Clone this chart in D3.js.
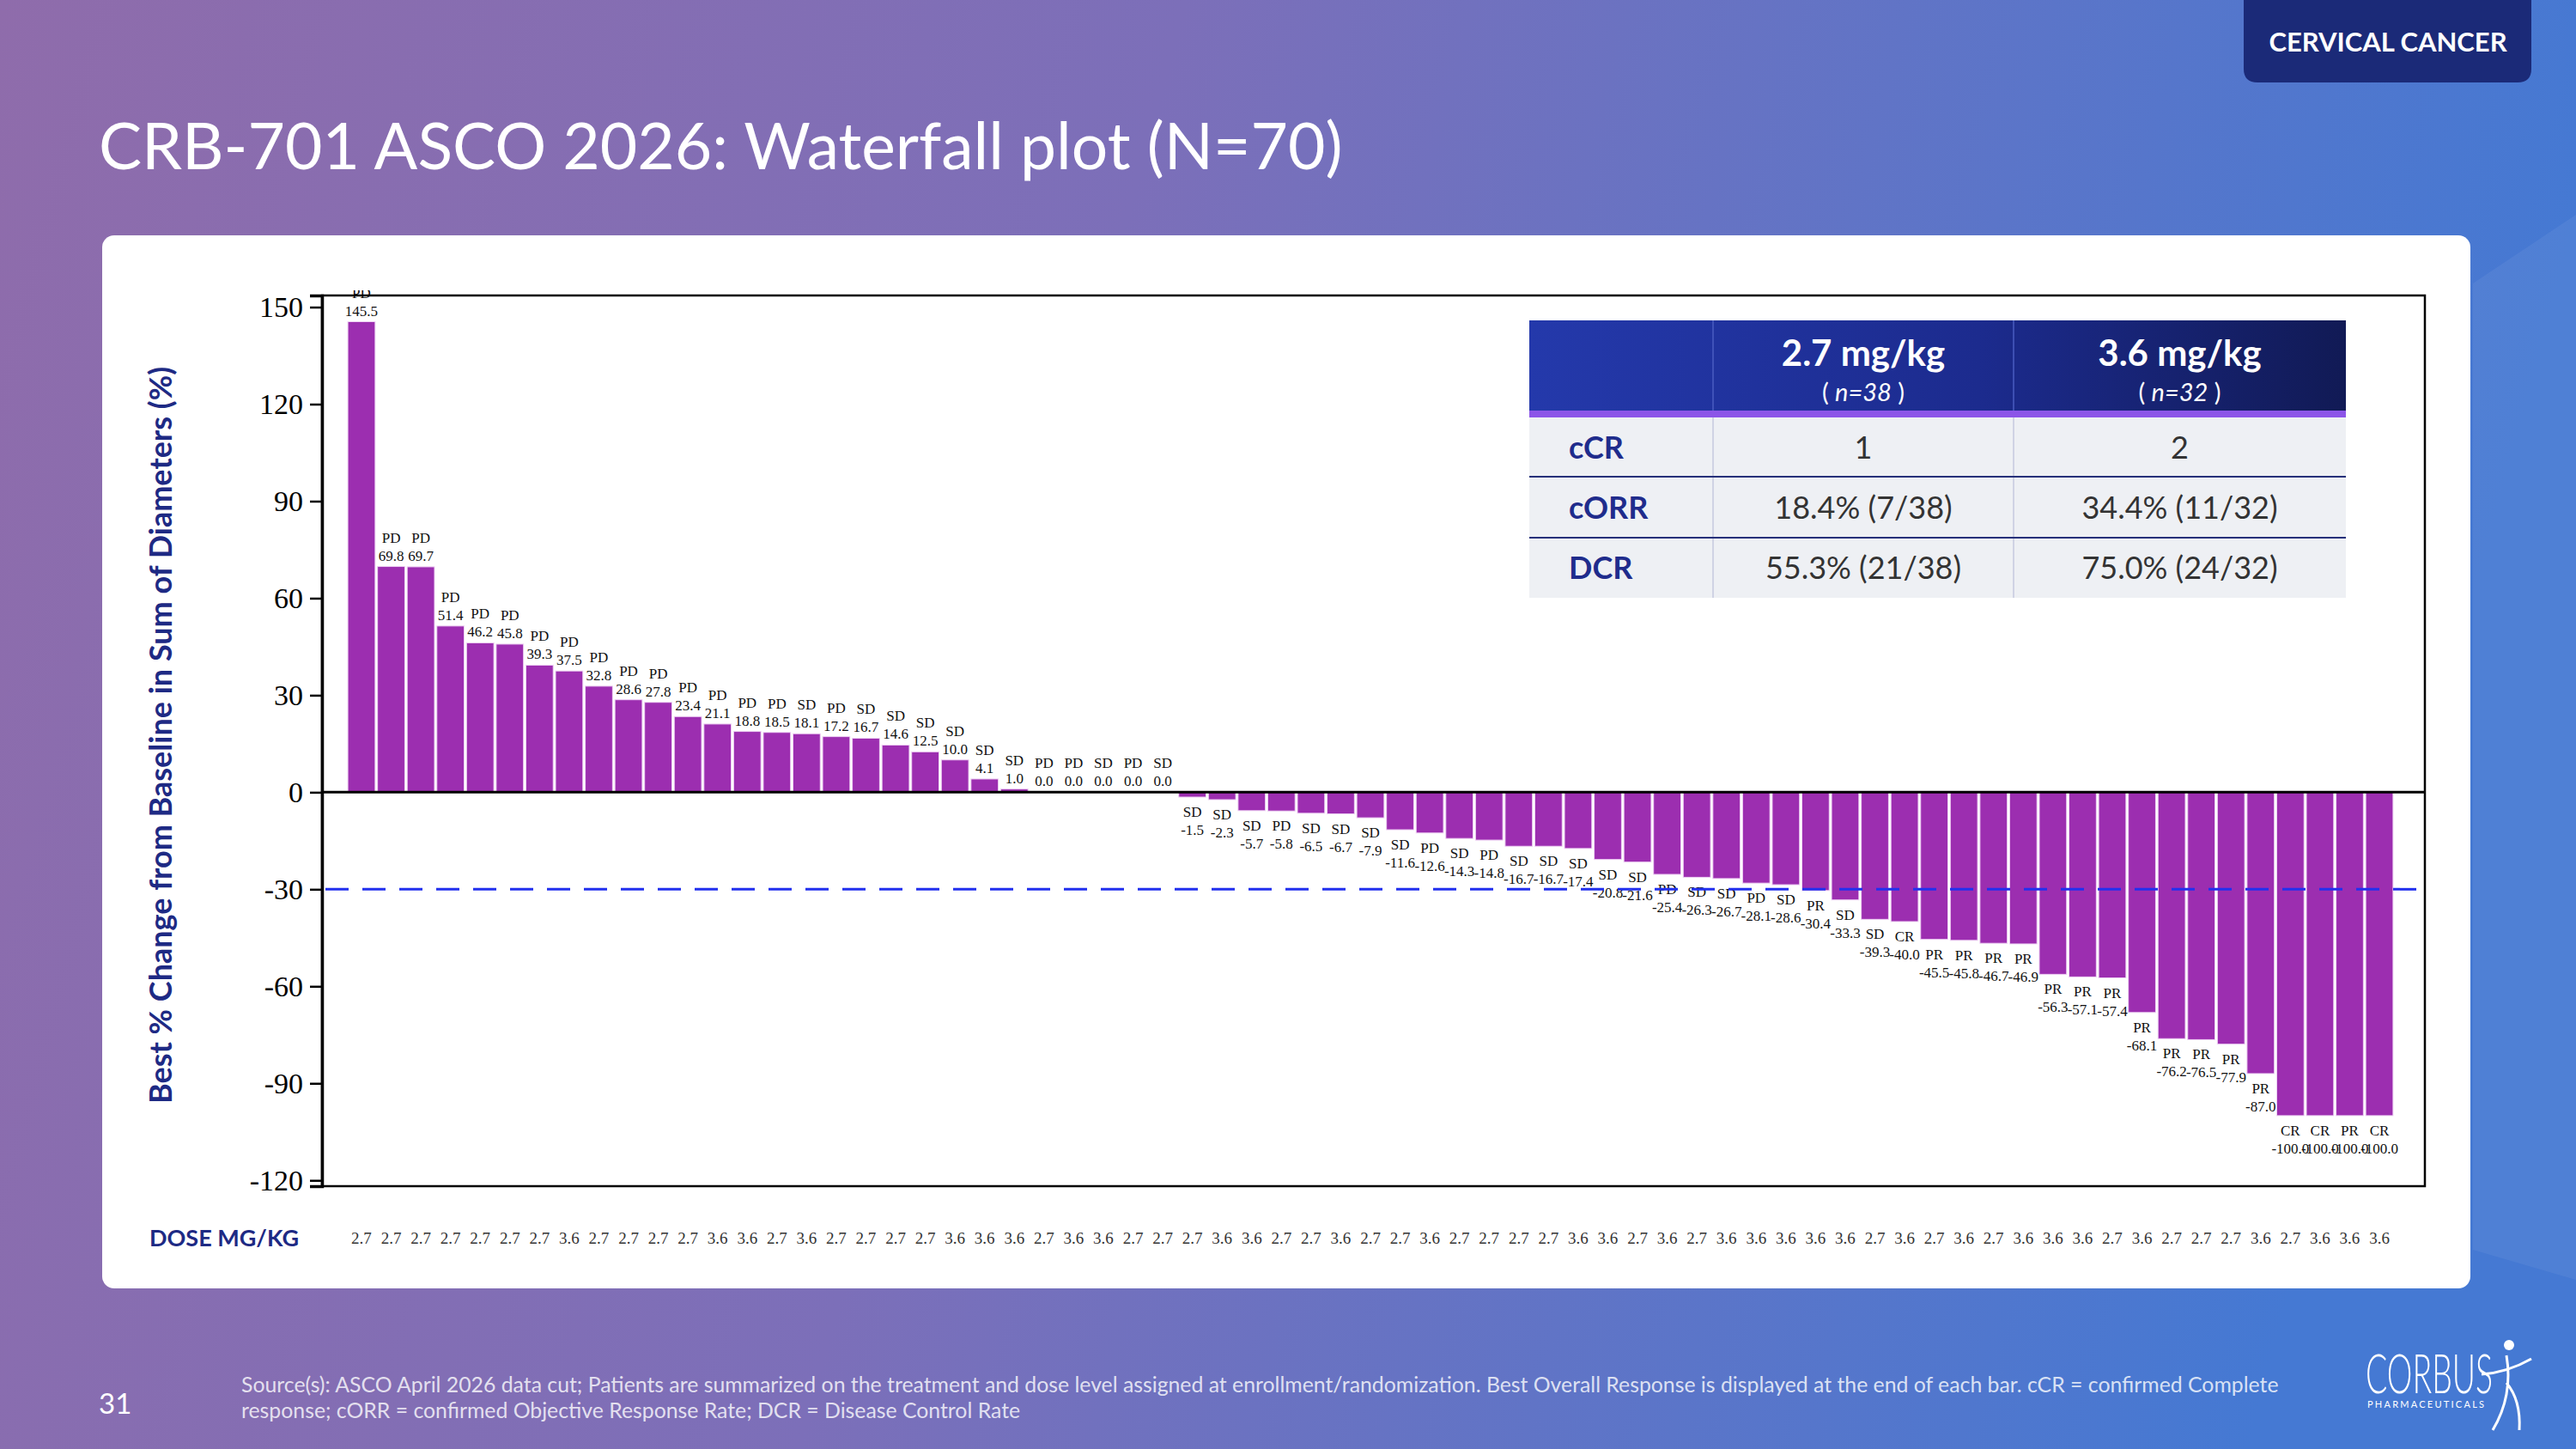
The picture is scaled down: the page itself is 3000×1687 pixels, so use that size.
<!DOCTYPE html>
<html>
<head>
<meta charset="utf-8">
<script src="https://cdn.jsdelivr.net/npm/d3@7"></script>
<style>
body{margin:0;background:#fff}
svg{display:block}
</style>
</head>
<body>
<script>
// best % change from baseline, one entry per patient (sorted as in the plot)
var values = [145.5, 69.8, 69.7, 51.4, 46.2, 45.8, 39.3, 37.5, 32.8, 28.6,
  27.8, 23.4, 21.1, 18.8, 18.5, 18.1, 17.2, 16.7, 14.6, 12.5,
  10.0, 4.1, 1.0, 0.0, 0.0, 0.0, 0.0, 0.0, -1.5, -2.3,
  -5.7, -5.8, -6.5, -6.7, -7.9, -11.6, -12.6, -14.3, -14.8, -16.7,
  -16.7, -17.4, -20.8, -21.6, -25.4, -26.3, -26.7, -28.1, -28.6, -30.4,
  -33.3, -39.3, -40.0, -45.5, -45.8, -46.7, -46.9, -56.3, -57.1, -57.4,
  -68.1, -76.2, -76.5, -77.9, -87.0, -100.0, -100.0, -100.0, -100.0];

var responses = ["PD","PD","PD","PD","PD","PD","PD","PD","PD","PD",
  "PD","PD","PD","PD","PD","SD","PD","SD","SD","SD",
  "SD","SD","SD","PD","PD","SD","PD","SD","SD","SD",
  "SD","PD","SD","SD","SD","SD","PD","SD","PD","SD",
  "SD","SD","SD","SD","PD","SD","SD","PD","SD","PR",
  "SD","SD","CR","PR","PR","PR","PR","PR","PR","PR",
  "PR","PR","PR","PR","PR","CR","CR","PR","CR"];

var doses = ["2.7","2.7","2.7","2.7","2.7","2.7","2.7","3.6","2.7","2.7",
  "2.7","2.7","3.6","3.6","2.7","3.6","2.7","2.7","2.7","2.7",
  "3.6","3.6","3.6","2.7","3.6","3.6","2.7","2.7","2.7","3.6",
  "3.6","2.7","2.7","3.6","2.7","2.7","3.6","2.7","2.7","2.7",
  "2.7","3.6","3.6","2.7","3.6","2.7","3.6","3.6","3.6","3.6",
  "3.6","2.7","3.6","2.7","3.6","2.7","3.6","3.6","3.6","2.7",
  "3.6","2.7","2.7","2.7","3.6","2.7","3.6","3.6","3.6"];

var yTicks = [150, 120, 90, 60, 30, 0, -30, -60, -90, -120];
var threshold = -30;

// summary table
var tableHeads = ["2.7 mg/kg", "3.6 mg/kg"];
var tableN = ["n=38", "n=32"];
var tableRows = ["cCR", "cORR", "DCR"];
var tableVals = [["1", "2"], ["18.4% (7/38)", "34.4% (11/32)"], ["55.3% (21/38)", "75.0% (24/32)"]];

var W = 3000, H = 1687;
var pL = 375, pR = 2824, pT = 344, pB = 1381;   // plot frame

var svg = d3.select("body").append("svg")
  .attr("width", W)
  .attr("height", H);

var defs = svg.append("defs");

var bg = defs.append("linearGradient").attr("id", "bgGrad")
  .attr("x1", "0").attr("y1", "0").attr("x2", "1").attr("y2", "0.15");
bg.append("stop").attr("offset", "0%").attr("stop-color", "#8f6cab");
bg.append("stop").attr("offset", "45%").attr("stop-color", "#7c6fb9");
bg.append("stop").attr("offset", "100%").attr("stop-color", "#4579d3");

var hg = defs.append("linearGradient").attr("id", "headGrad");
hg.append("stop").attr("offset", "0%").attr("stop-color", "#2439ab");
hg.append("stop").attr("offset", "55%").attr("stop-color", "#1c2b8e");
hg.append("stop").attr("offset", "100%").attr("stop-color", "#111a55");

defs.append("clipPath").attr("id", "plotClip")
  .append("rect").attr("x", pL - 40).attr("y", 338)
  .attr("width", pR - pL + 80).attr("height", 1200);

// background
svg.append("rect").attr("width", W).attr("height", H).attr("fill", "url(#bgGrad)");
svg.append("path")
  .attr("d", "M2880,330 L3000,250 L3000,1490 L2880,1455 Z")
  .attr("fill", "#ffffff").attr("fill-opacity", 0.06);

// badge
svg.append("path")
  .attr("d", "M2613,0 H2948 V80 Q2948,96 2932,96 H2629 Q2613,96 2613,80 Z")
  .attr("fill", "#1b2a78");
svg.append("text")
  .text("CERVICAL CANCER")
  .attr("x", 2781).attr("y", 60)
  .attr("text-anchor", "middle")
  .attr("font-family", "Lato").attr("font-weight", "bold")
  .attr("font-size", 31).attr("fill", "#ffffff");

// title
svg.append("text")
  .text("CRB-701 ASCO 2026: Waterfall plot (N=70)")
  .attr("x", 115).attr("y", 197)
  .attr("font-family", "Lato").attr("font-size", 75)
  .attr("fill", "#ffffff");

// white card
svg.append("rect")
  .attr("x", 119).attr("y", 274)
  .attr("width", 2758).attr("height", 1226)
  .attr("rx", 14).attr("fill", "#ffffff");

// scales
var x = d3.scaleBand()
  .domain(d3.range(values.length))
  .range([403.7, 2788.3])
  .paddingInner(0.08)
  .paddingOuter(0.04);

var y = d3.scaleLinear()
  .domain([-121.8, 153.6])
  .range([pB, pT]);

// bars
svg.append("g").selectAll("rect")
  .data(values)
  .join("rect")
  .attr("x", function(d, i) { return x(i); })
  .attr("y", function(d) { return Math.min(y(d), y(0)); })
  .attr("width", x.bandwidth())
  .attr("height", function(d) { return Math.abs(y(d) - y(0)); })
  .attr("fill", "#9c2eb0")
  .attr("stroke", "#efd3f4")
  .attr("stroke-width", 1);

// bar labels (response + value)
var lab = svg.append("g")
  .attr("clip-path", "url(#plotClip)")
  .attr("font-family", "Liberation Serif, Times New Roman, serif")
  .attr("font-size", 17)
  .attr("fill", "#111")
  .attr("text-anchor", "middle");

values.forEach(function(v, i) {
  var cx = x(i) + x.bandwidth() / 2;
  var y1, y2;
  if (v >= 0) {
    y1 = y(v) - 28;
    y2 = y(v) - 7;
  } else {
    y1 = y(v) + 23;
    y2 = y(v) + 44;
  }
  lab.append("text").text(responses[i]).attr("x", cx).attr("y", y1);
  lab.append("text").text(v.toFixed(1)).attr("x", cx).attr("y", y2);
});

// zero line
svg.append("line")
  .attr("x1", pL).attr("x2", pR)
  .attr("y1", y(0)).attr("y2", y(0))
  .attr("stroke", "#000").attr("stroke-width", 3);

// -30% threshold
svg.append("line")
  .attr("x1", pL + 4).attr("x2", pR)
  .attr("y1", y(threshold)).attr("y2", y(threshold))
  .attr("stroke", "#2230ee").attr("stroke-width", 3)
  .attr("stroke-dasharray", "27,16");

// frame
svg.append("rect")
  .attr("x", pL).attr("y", pT)
  .attr("width", pR - pL).attr("height", pB - pT)
  .attr("fill", "none").attr("stroke", "#000").attr("stroke-width", 2.5);

// y axis
var yAxis = svg.append("g")
  .attr("transform", "translate(" + pL + ",0)")
  .call(d3.axisLeft(y).tickValues(yTicks).tickSize(14).tickPadding(8)
    .tickFormat(function(d) { return String(d); }));
yAxis.select(".domain").attr("stroke", "#000").attr("stroke-width", 3.5);
yAxis.selectAll(".tick line").attr("stroke", "#000").attr("stroke-width", 2.5);
yAxis.selectAll(".tick text")
  .attr("font-family", "Liberation Serif, Times New Roman, serif")
  .attr("font-size", 34).attr("fill", "#000");

svg.append("text")
  .text("Best % Change from Baseline in Sum of Diameters (%)")
  .attr("transform", "translate(200,856) rotate(-90)")
  .attr("text-anchor", "middle")
  .attr("font-family", "Lato").attr("font-weight", "bold")
  .attr("font-size", 36).attr("fill", "#1e2a84");

// dose row
svg.append("text")
  .text("DOSE MG/KG")
  .attr("x", 174).attr("y", 1451)
  .attr("font-family", "Lato").attr("font-weight", "bold")
  .attr("font-size", 27).attr("fill", "#1e2a84");

svg.append("g").selectAll("text")
  .data(doses)
  .join("text")
  .text(function(d) { return d; })
  .attr("x", function(d, i) { return x(i) + x.bandwidth() / 2; })
  .attr("y", 1448)
  .attr("text-anchor", "middle")
  .attr("font-family", "Liberation Serif, Times New Roman, serif")
  .attr("font-size", 19).attr("fill", "#333");

// summary table
var tx = [1781, 1995, 2345, 2732];
var headTop = 373, headBot = 478, bandH = 8;
var rowY = [486, 555, 626, 696];
var tbl = svg.append("g");

tbl.append("rect").attr("x", tx[0]).attr("y", headTop)
  .attr("width", tx[3] - tx[0]).attr("height", headBot - headTop)
  .attr("fill", "url(#headGrad)");
tbl.append("rect").attr("x", tx[0]).attr("y", headBot)
  .attr("width", tx[3] - tx[0]).attr("height", bandH)
  .attr("fill", "#8c55e8");
tbl.append("rect").attr("x", tx[0]).attr("y", rowY[0])
  .attr("width", tx[3] - tx[0]).attr("height", rowY[3] - rowY[0])
  .attr("fill", "#eef0f4");

[1, 2].forEach(function(c) {
  tbl.append("line").attr("x1", tx[c]).attr("x2", tx[c])
    .attr("y1", headTop).attr("y2", headBot)
    .attr("stroke", "#4a5cc0").attr("stroke-width", 1.5);
  tbl.append("line").attr("x1", tx[c]).attr("x2", tx[c])
    .attr("y1", rowY[0]).attr("y2", rowY[3])
    .attr("stroke", "#c6cadf").attr("stroke-width", 1.5);
});
[1, 2].forEach(function(r) {
  tbl.append("line").attr("x1", tx[0]).attr("x2", tx[3])
    .attr("y1", rowY[r]).attr("y2", rowY[r])
    .attr("stroke", "#26307a").attr("stroke-width", 2);
});

tableHeads.forEach(function(h, c) {
  var cx = (tx[c + 1] + tx[c + 2]) / 2;
  tbl.append("text").text(h)
    .attr("x", cx).attr("y", 426)
    .attr("text-anchor", "middle")
    .attr("font-family", "Lato").attr("font-weight", "bold")
    .attr("font-size", 42).attr("fill", "#fff");
  var t = tbl.append("text")
    .attr("x", cx).attr("y", 467)
    .attr("text-anchor", "middle")
    .attr("font-family", "Lato").attr("font-size", 29).attr("fill", "#fff");
  t.append("tspan").text("( ");
  t.append("tspan").text(tableN[c]).attr("font-style", "italic");
  t.append("tspan").text(" )");
});

tableRows.forEach(function(r, k) {
  var base = (rowY[k] + rowY[k + 1]) / 2 + 13;
  tbl.append("text").text(r)
    .attr("x", 1827).attr("y", base)
    .attr("font-family", "Lato").attr("font-weight", "bold")
    .attr("font-size", 36).attr("fill", "#1f2c8c");
  tableVals[k].forEach(function(v, c) {
    tbl.append("text").text(v)
      .attr("x", (tx[c + 1] + tx[c + 2]) / 2).attr("y", base)
      .attr("text-anchor", "middle")
      .attr("font-family", "Lato").attr("font-size", 36)
      .attr("fill", "#333");
  });
});

// footer
svg.append("text").text("31")
  .attr("x", 115).attr("y", 1646)
  .attr("font-family", "Lato").attr("font-size", 33).attr("fill", "#fff");

var src = svg.append("text")
  .attr("font-family", "Lato").attr("font-size", 24.8)
  .attr("fill", "#ffffff").attr("fill-opacity", 0.8);
src.append("tspan").attr("x", 281).attr("y", 1621)
  .text("Source(s): ASCO April 2026 data cut; Patients are summarized on the treatment and dose level assigned at enrollment/randomization. Best Overall Response is displayed at the end of each bar. cCR = confirmed Complete");
src.append("tspan").attr("x", 281).attr("y", 1651)
  .text("response; cORR = confirmed Objective Response Rate; DCR = Disease Control Rate");

// logo
svg.append("text").text("CORBUS")
  .attr("x", 2755).attr("y", 1622)
  .attr("textLength", 148).attr("lengthAdjust", "spacingAndGlyphs")
  .attr("font-family", "Lato").attr("font-weight", 300)
  .attr("font-size", 64).attr("fill", "#fff");
svg.append("text").text("PHARMACEUTICALS")
  .attr("x", 2757).attr("y", 1639)
  .attr("textLength", 136).attr("lengthAdjust", "spacing")
  .attr("font-family", "Lato").attr("font-size", 11).attr("fill", "#fff");
svg.append("circle").attr("cx", 2922).attr("cy", 1566).attr("r", 6).attr("fill", "#fff");
svg.append("path")
  .attr("d", "M2890,1600 Q2920,1598 2948,1582")
  .attr("fill", "none").attr("stroke", "#fff").attr("stroke-width", 3);
svg.append("path")
  .attr("d", "M2903,1665 Q2927,1625 2919,1578 M2919,1610 Q2936,1630 2934,1665")
  .attr("fill", "none").attr("stroke", "#fff").attr("stroke-width", 3);
</script>
</body>
</html>
